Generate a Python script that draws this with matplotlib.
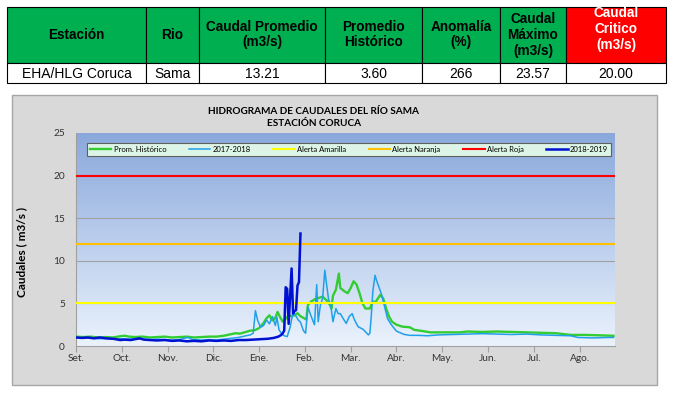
import matplotlib
matplotlib.use("Agg")
import matplotlib.pyplot as plt
from matplotlib.patches import Rectangle
import numpy as np

# table content
headers = ["Estación", "Rio", "Caudal Promedio\n(m3/s)", "Promedio\nHistórico",
           "Anomalía\n(%)", "Caudal\nMáximo\n(m3/s)", "Caudal\nCritico\n(m3/s)"]
row = ["EHA/HLG Coruca", "Sama", "13.21", "3.60", "266", "23.57", "20.00"]

# chart data (day index from 1 Sep, value in m3/s)
months = ["Set.", "Oct.", "Nov.", "Dic.", "Ene.", "Feb.", "Mar.", "Abr.",
          "May.", "Jun.", "Jul.", "Ago."]

hist_days = [0, 5, 10, 15, 20, 25, 30, 33, 36, 40, 45, 50, 55, 60, 65, 70, 75,
             80, 85, 90, 95, 100, 104, 108, 111, 114, 118, 121, 124, 127, 129,
             131, 133, 135, 136.5, 138, 140, 142, 144, 146, 148, 150, 152, 154,
             156, 157, 159, 162, 167, 170, 172, 173, 174, 176, 178, 179, 182,
             184, 186, 188, 190, 192, 194, 196, 199, 201, 203, 206, 208, 210,
             212, 214, 217, 221, 226, 229, 233, 240, 250, 260, 265, 275, 285,
             295, 305, 315, 325, 335, 345, 355, 364]
hist_vals = [1.1, 1.05, 1.1, 1.0, 1.05, 1.0, 1.15, 1.2, 1.1, 1.05, 1.1, 1.0,
             1.05, 1.1, 1.0, 1.05, 1.1, 1.0, 1.05, 1.1, 1.1, 1.2, 1.35, 1.5,
             1.45, 1.6, 1.8, 1.85, 2.1, 2.7, 3.25, 3.6, 3.0, 3.3, 4.0, 3.45,
             2.85, 3.2, 3.6, 3.5, 3.6, 3.85, 3.5, 3.3, 3.1, 4.8, 5.2, 5.5, 5.8,
             5.3, 4.8, 4.4, 5.9, 6.6, 8.5, 6.8, 6.4, 6.2, 6.8, 7.6, 7.2, 6.2,
             5.0, 4.4, 4.4, 5.2, 5.2, 6.0, 5.6, 4.4, 3.45, 2.85, 2.5, 2.27, 2.2,
             1.9, 1.8, 1.6, 1.6, 1.6, 1.7, 1.65, 1.7, 1.65, 1.6, 1.55, 1.5,
             1.3, 1.3, 1.25, 1.2]

y1718_days = [0, 5, 10, 15, 20, 25, 30, 35, 40, 45, 50, 55, 60, 65, 70, 73, 76,
              79, 85, 90, 95, 100, 105, 110, 115, 118, 120, 121.5, 123, 125,
              127, 129, 131, 133, 135, 136, 137.5, 139, 141, 143, 145, 147, 149,
              150.5, 152, 154, 155.5, 157, 159, 161.5, 163, 164, 165.5, 167,
              168.5, 169.5, 171, 172.5, 174, 176, 177.5, 179, 181, 183, 185,
              187, 188.5, 191, 194.5, 198, 199, 200, 201, 202.5, 203.5, 205,
              207, 209, 211, 213.5, 217, 222, 226, 232, 238, 245, 255, 265, 275,
              285, 295, 305, 315, 325, 335, 340, 350, 360, 364]
y1718_vals = [1.0, 0.9, 0.95, 0.85, 0.9, 0.8, 0.85, 0.8, 0.85, 0.8, 0.75, 0.8,
              0.75, 0.7, 0.75, 0.9, 1.0, 0.75, 0.7, 0.75, 0.7, 0.8, 0.9, 1.0,
              1.2, 1.3, 1.5, 4.15, 3.0, 2.2, 2.4, 3.05, 2.6, 3.45, 2.4, 3.4, 1.9,
              1.5, 1.2, 1.1, 2.2, 4.0, 3.5, 3.05, 2.8, 1.8, 1.5, 4.6, 3.6, 2.5,
              7.2, 2.85, 4.8, 5.6, 8.9, 7.5, 5.5, 4.8, 2.85, 4.4, 3.8, 3.8, 3.2,
              2.65, 3.45, 3.8, 3.1, 2.27, 1.95, 1.3, 1.5, 3.6, 6.4, 8.3, 7.7,
              7.0, 6.0, 4.6, 3.2, 2.5, 1.75, 1.37, 1.25, 1.25, 1.2, 1.3, 1.35,
              1.4, 1.45, 1.4, 1.35, 1.4, 1.3, 1.25, 1.2, 1.0, 0.95, 1.0, 1.0]

y1819_days = [0, 4, 8, 12, 16, 20, 25, 30, 33, 37, 40, 43, 46, 50, 55, 60, 65,
              70, 75, 80, 85, 90, 95, 100, 105, 110, 115, 120, 125, 130, 134,
              137, 139, 140, 141, 142, 143, 144, 146, 147, 148, 149, 150, 151,
              152]
y1819_vals = [1.0, 0.95, 1.0, 0.9, 1.0, 0.9, 0.85, 0.7, 0.75, 0.7, 0.8, 0.9,
              0.75, 0.7, 0.65, 0.7, 0.6, 0.65, 0.55, 0.6, 0.55, 0.65, 0.6, 0.65,
              0.6, 0.7, 0.7, 0.75, 0.8, 0.85, 0.95, 1.1, 1.3, 1.5, 1.8, 6.9,
              6.7, 2.6, 9.1, 3.8, 4.1, 4.2, 7.1, 7.5, 13.2]

alerts = [("Alerta Amarilla", 5, "#ffff00"), ("Alerta Naranja", 12, "#ffc000"),
          ("Alerta Roja", 20, "#ff0000")]

W, H = 674, 394
fig = plt.figure(figsize=(W / 100, H / 100), dpi=100)
fig.patch.set_facecolor("white")

# background layer in pixel coordinates
bg = fig.add_axes([0, 0, 1, 1])
bg.set_xlim(0, W)
bg.set_ylim(H, 0)
bg.axis("off")

tfont = ["Liberation Sans Narrow", "Liberation Sans"]
col_x = [7, 146, 199, 325, 422, 500, 566, 666]
top, mid, bot = 7, 63, 83
text_y = [35, 35, 34.5, 34.5, 34.5, 35, 29]
for i in range(7):
    x0, x1 = col_x[i], col_x[i + 1]
    fc = "#ff0000" if i == 6 else "#00b050"
    bg.add_patch(Rectangle((x0, top), x1 - x0, mid - top, facecolor=fc,
                           edgecolor="black", linewidth=0.8))
    bg.add_patch(Rectangle((x0, mid), x1 - x0, bot - mid, facecolor="white",
                           edgecolor="black", linewidth=0.8))
    bg.text((x0 + x1) / 2, text_y[i], headers[i], ha="center", va="center",
            fontsize=9.8, fontweight="bold", family=tfont, linespacing=1.15,
            color="white" if i == 6 else "black")
    bg.text((x0 + x1) / 2, 73.5, row[i], ha="center", va="center",
            fontsize=10, family=tfont, color="black")

# grey chart panel
bg.add_patch(Rectangle((12, 95), 645, 290, facecolor="#d9d9d9",
                       edgecolor="#a6a6a6", linewidth=1))

cfont = ["Lato", "DejaVu Sans"]
bg.text(314, 111, "HIDROGRAMA DE CAUDALES DEL RÍO SAMA", ha="center",
        va="center", fontsize=7.2, fontweight="bold", family=cfont)
bg.text(314, 123, "ESTACIÓN CORUCA", ha="center", va="center", fontsize=7.2,
        fontweight="bold", family=cfont)

# plot area
pl, pr, pt, pb = 76, 615, 133, 346
ax = fig.add_axes([pl / W, (H - pb) / H, (pr - pl) / W, (pb - pt) / H])
ax.set_zorder(2)

top_c = np.array([0.54, 0.66, 0.86])
bot_c = np.array([0.92, 0.95, 0.99])
t = np.linspace(0, 1, 256)[:, None]
grad = top_c * (1 - t) + bot_c * t
ax.imshow(grad[:, None, :], extent=[0, 365, 0, 25], aspect="auto", zorder=0)

for gy in (5, 10, 15):
    ax.axhline(gy, color="#a0a0a0", linewidth=0.8, zorder=1)

ax.plot(hist_days, hist_vals, color="#33cc33", linewidth=1.7,
        label="Prom. Histórico", zorder=3)
ax.plot(y1718_days, y1718_vals, color="#1fa0e8", linewidth=1.1,
        label="2017-2018", zorder=4)
for name, val, col in alerts:
    ax.axhline(val, color=col, linewidth=1.5, label=name, zorder=5)
ax.plot(y1819_days, y1819_vals, color="#0010d0", linewidth=1.8,
        label="2018-2019", zorder=6)

ax.set_xlim(0, 365)
ax.set_ylim(0, 25)
ax.set_xticks([31 * i for i in range(12)])
ax.set_xticklabels(months)
ax.set_yticks([0, 5, 10, 15, 20, 25])
ax.tick_params(axis="x", length=4, color="#a0a0a0", labelsize=7.3, pad=2,
               labelcolor="#333333")
ax.tick_params(axis="y", length=0, labelsize=7.3, pad=8, labelcolor="#333333")
for lab in ax.get_xticklabels() + ax.get_yticklabels():
    lab.set_family(cfont)
for s in ("top", "right"):
    ax.spines[s].set_visible(False)
for s in ("left", "bottom"):
    ax.spines[s].set_color("#a0a0a0")
    ax.spines[s].set_linewidth(0.8)

ax.set_ylabel("Caudales ( m3/s )", fontsize=8.5, fontweight="bold",
              family=cfont)
ax.yaxis.set_label_coords(-0.091, 0.44)

leg = ax.legend(loc="lower left", bbox_to_anchor=(0.02, 0.892, 0.973, 0.094),
                mode="expand", ncol=6, frameon=True,
                handlelength=2.8, handletextpad=0.3, borderaxespad=0,
                prop={"family": cfont, "size": 5.5}, fancybox=False)
leg.get_frame().set_facecolor("#dcf5e6")
leg.get_frame().set_edgecolor("#606060")
leg.get_frame().set_linewidth(0.8)
leg.get_frame().set_alpha(1)

fig.savefig("out.png", dpi=100)
